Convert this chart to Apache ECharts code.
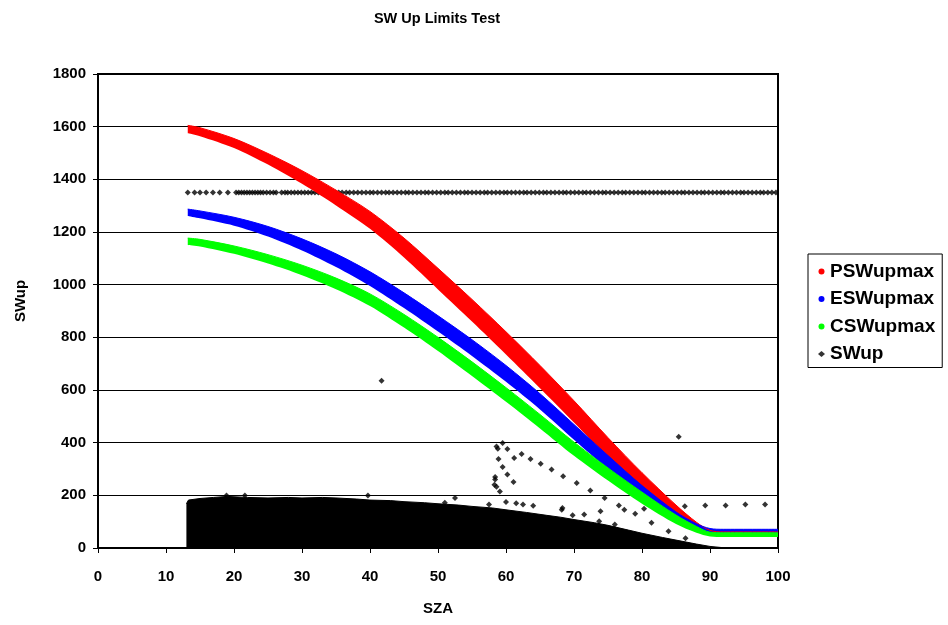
<!DOCTYPE html>
<html>
<head>
<meta charset="utf-8">
<script src="https://cdn.jsdelivr.net/npm/echarts@6/dist/echarts.min.js"></script>
<style>
html,body{margin:0;padding:0;background:#fff;}
#chart{width:948px;height:625px;}
</style>
</head>
<body>
<div id="chart"></div>
<script>
// ---- data ----
const bandSZA = [13.2, 15, 20, 25, 30, 35, 40, 45, 50, 55, 60, 65, 70, 75, 80, 85, 88, 90, 92, 100];
const pswLow  = [1575, 1564, 1519, 1456, 1383, 1301, 1212, 1103, 982, 860, 735, 607, 477, 345, 224, 117, 66, 49, 47, 47];
const pswHigh = [1605, 1596, 1555, 1498, 1433, 1359, 1278, 1177, 1062, 944, 821, 693, 559, 419, 286, 163, 98, 67, 61, 61];
const eswLow  = [1261, 1252, 1224, 1183, 1130, 1067, 995, 911, 822, 729, 631, 526, 411, 299, 191, 103, 68, 58, 57, 57];
const eswHigh = [1287, 1280, 1256, 1221, 1174, 1117, 1049, 969, 882, 791, 693, 586, 469, 351, 237, 137, 92, 74, 71, 71];
const cswLow  = [1151, 1145, 1117, 1080, 1036, 983, 919, 837, 748, 653, 555, 454, 350, 256, 168, 91, 58, 44, 42, 42];
const cswHigh = [1177, 1172, 1147, 1114, 1074, 1025, 965, 887, 800, 707, 609, 507, 402, 304, 212, 125, 82, 60, 58, 58];

// dense SWup cloud: upper envelope
const blobSZA = [13.0, 13.3, 15, 17, 19, 22, 25, 28, 30, 33, 35, 38, 40, 43, 45, 48, 50, 53, 55, 58, 60, 63, 66, 68, 70, 73, 75, 78, 80, 83, 85, 88, 90, 92];
const blobTop = [168, 182, 188, 192, 196, 192, 190, 192, 190, 192, 190, 186, 182, 180, 176, 172, 168, 163, 158, 152, 145, 135, 124, 117, 108, 96, 86, 68, 56, 40, 30, 15, 6, 1];

// SWup row of points at ~1350
const rowSZA = [13.2, 14.2, 15.0, 15.9, 16.9, 17.9, 19.1, 20.3, 20.7, 21.1, 21.5, 21.9, 22.3, 22.7, 23.1, 23.5, 23.9, 24.3, 24.8, 25.3, 25.8, 26.2, 27.0, 27.5, 27.9, 28.4, 28.9, 29.4, 29.9, 30.4, 30.9, 31.4, 31.9, 32.4, 32.9, 33.4, 33.9, 34.4, 34.9, 35.4, 35.9, 36.5, 37.0, 37.6, 38.2, 38.8, 39.4, 40.0, 40.5, 41.1, 41.7, 42.3, 42.8, 43.4, 44.0, 44.6, 45.2, 45.7, 46.3, 46.9, 47.5, 48.1, 48.6, 49.2, 49.8, 50.4, 51.0, 51.5, 52.1, 52.7, 53.3, 53.9, 54.4, 55.0, 55.6, 56.2, 56.8, 57.3, 57.9, 58.5, 59.1, 59.7, 60.2, 60.8, 61.4, 62.0, 62.6, 63.1, 63.7, 64.3, 64.9, 65.5, 66.0, 66.6, 67.2, 67.8, 68.4, 68.9, 69.5, 70.1, 70.7, 71.3, 71.8, 72.4, 73.0, 73.6, 74.2, 74.7, 75.3, 75.9, 76.5, 77.1, 77.6, 78.2, 78.8, 79.4, 80.0, 80.5, 81.1, 81.7, 82.3, 82.9, 83.4, 84.0, 84.6, 85.2, 85.8, 86.3, 86.9, 87.5, 88.1, 88.7, 89.2, 89.8, 90.4, 91.0, 91.6, 92.1, 92.7, 93.3, 93.9, 94.5, 95.0, 95.6, 96.2, 96.8, 97.4, 97.9, 98.5, 99.1, 99.7];
const rowValue = 1350;

// other individual SWup points
const ptSZA = [41.7, 85.4, 59.5, 60.2, 58.8, 58.6, 58.9, 59.5, 60.2, 58.4, 58.4, 61.1, 58.6, 58.3, 59.1, 61.2, 62.3, 63.6, 65.1, 66.7, 68.4, 70.4, 72.4, 74.5, 76.6, 77.4, 79.0, 80.3, 81.4, 83.3, 83.9, 86.3, 89.3, 92.3, 95.2, 98.1, 52.5, 51.0, 68.3, 68.2, 69.8, 71.5, 73.7, 76.0, 86.4, 18.9, 21.6, 39.7, 73.9, 60.0, 61.5, 62.5, 64.0, 57.5];
const ptVal = [635, 422, 399, 376, 377, 385, 338, 308, 279, 270, 260, 251, 233, 240, 215, 342, 357, 338, 320, 298, 272, 247, 218, 190, 161, 145, 130, 149, 96, 154, 64, 159, 161, 161, 165, 165, 190, 172, 152, 145, 124, 127, 102, 89, 37, 199, 199, 199, 140, 175, 170, 165, 160, 165];

const xTicks = {min: 0, max: 100, step: 10};
const yTicks = {min: 0, max: 1800, step: 200};

// ---- build ----
// value first, SZA second, so that stacking applies to the value dimension
const pairYX = (xs, ys) => xs.map((x, i) => [ys[i], x]);
const pair = (xs, ys) => xs.map((x, i) => [x, ys[i]]);
const diff = (hi, lo) => hi.map((v, i) => v - lo[i]);
const FONT = '"Liberation Sans", Arial, sans-serif';

function band(name, lo, hi, color) {
  return [
    {name: name + '_base', type: 'line', stack: name, data: pairYX(bandSZA, lo), encode: {x: 1, y: 0},
     smooth: 0.3, symbol: 'none', lineStyle: {width: 0, opacity: 0}, silent: true, animation: false},
    {name: name, type: 'line', stack: name, data: pairYX(bandSZA, diff(hi, lo)), encode: {x: 1, y: 0},
     smooth: 0.3, symbol: 'none', lineStyle: {width: 1, color: color}, itemStyle: {color: color},
     areaStyle: {color: color, opacity: 1}, silent: true, animation: false}
  ];
}

const series = [].concat(
  band('PSWupmax', pswLow, pswHigh, '#ff0000'),
  band('ESWupmax', eswLow, eswHigh, '#0000ff'),
  band('CSWupmax', cswLow, cswHigh, '#00ff00'),
  [
    {name: 'SWup_cloud', type: 'line', data: pair(blobSZA, blobTop), symbol: 'none',
     lineStyle: {width: 1, color: '#000'}, areaStyle: {color: '#000', opacity: 1}, silent: true, animation: false},
    {name: 'SWup', type: 'scatter', symbol: 'diamond', symbolSize: 6, itemStyle: {color: '#000'},
     data: pair(rowSZA, rowSZA.map(() => rowValue)).concat(pair(ptSZA, ptVal)), silent: true, animation: false}
  ]
);

const chart = echarts.init(document.getElementById('chart'), null, {renderer: 'canvas'});
chart.setOption({
  animation: false,
  backgroundColor: '#fff',
  title: {text: 'SW Up Limits Test', left: 432, top: 6, textAlign: 'center',
          textStyle: {fontFamily: FONT, fontWeight: 'bold', fontSize: 14.5, color: '#000'}},
  grid: {left: 98, right: 170, top: 74, bottom: 77, show: true, borderColor: '#000', borderWidth: 2},
  legend: {
    orient: 'vertical', left: 808, top: 254,
    backgroundColor: '#fff', borderColor: '#000', borderWidth: 1, borderRadius: 0,
    padding: [8, 7, 4, 10], itemGap: 8.5, itemWidth: 7, itemHeight: 6,
    textStyle: {fontFamily: FONT, fontWeight: 'bold', fontSize: 19, color: '#000', lineHeight: 18},
    data: [
      {name: 'PSWupmax', icon: 'circle', itemStyle: {color: '#ff0000'}},
      {name: 'ESWupmax', icon: 'circle', itemStyle: {color: '#0000ff'}},
      {name: 'CSWupmax', icon: 'circle', itemStyle: {color: '#00ff00'}},
      {name: 'SWup', icon: 'diamond', itemStyle: {color: '#000'}}
    ],
    selectedMode: false
  },
  xAxis: {
    type: 'value', min: xTicks.min, max: xTicks.max, interval: xTicks.step,
    name: 'SZA', nameLocation: 'middle', nameGap: 53,
    nameTextStyle: {fontFamily: FONT, fontWeight: 'bold', fontSize: 15, color: '#000'},
    axisLine: {show: true, onZero: false, lineStyle: {color: '#000', width: 2}},
    axisTick: {show: true, length: 5, lineStyle: {color: '#000', width: 1}},
    axisLabel: {fontFamily: FONT, fontWeight: 'bold', fontSize: 15, color: '#000', margin: 21,
                formatter: v => String(v)},
    splitLine: {show: false}
  },
  yAxis: {
    type: 'value', min: yTicks.min, max: yTicks.max, interval: yTicks.step,
    name: 'SWup', nameLocation: 'middle', nameGap: 70,
    nameTextStyle: {fontFamily: FONT, fontWeight: 'bold', fontSize: 15, color: '#000', padding: [0, 0, 0, 20]},
    axisLine: {show: true, lineStyle: {color: '#000', width: 2}},
    axisTick: {show: true, length: 5, lineStyle: {color: '#000', width: 1}},
    axisLabel: {fontFamily: FONT, fontWeight: 'bold', fontSize: 15, color: '#000', margin: 12,
                formatter: v => String(v)},
    splitLine: {show: true, lineStyle: {color: '#000', width: 1}}
  },
  series: series
});
</script>
</body>
</html>
